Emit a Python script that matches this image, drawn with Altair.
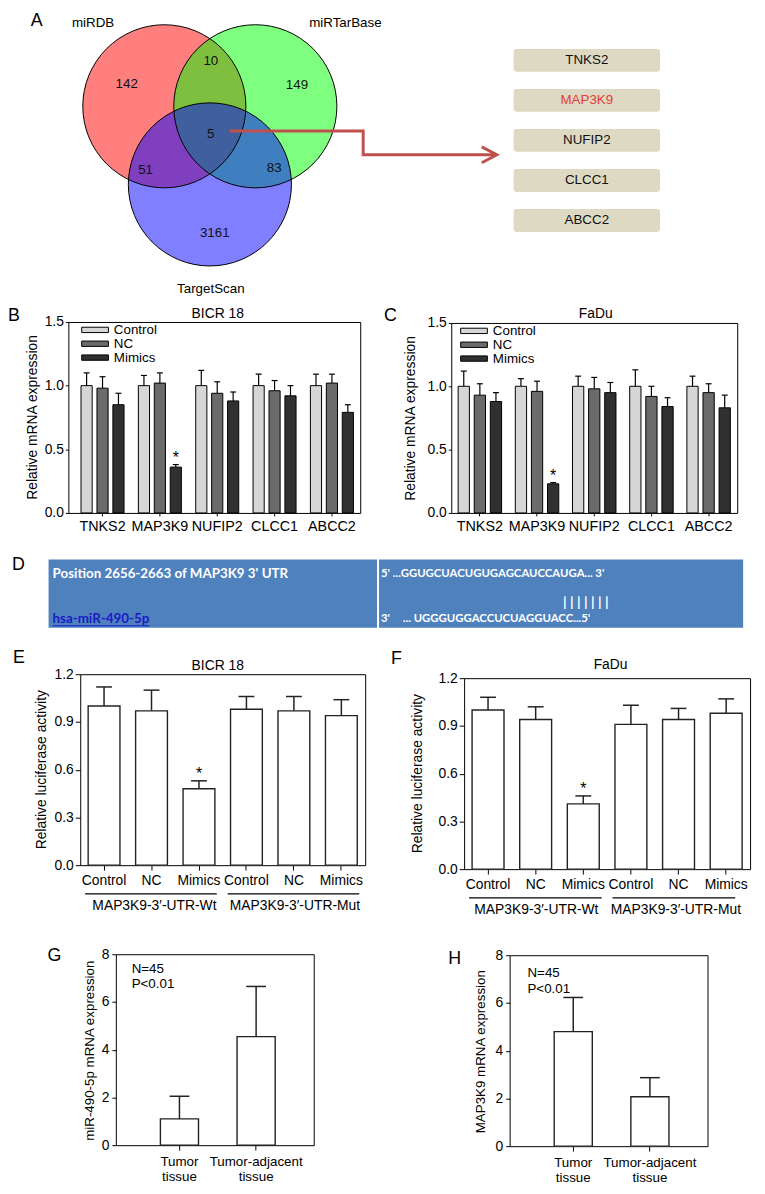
import altair as alt
import pandas as pd

FONT = "Liberation Sans"
SEQFONT = "Lato"

# ---------------- data ----------------
venn_sets = ["miRDB", "miRTarBase", "TargetScan"]
venn_region_counts = ["142", "10", "149", "5", "51", "83", "3161"]
target_genes = ["TNKS2", "MAP3K9", "NUFIP2", "CLCC1", "ABCC2"]
highlight_gene = "MAP3K9"

genes = ["TNKS2", "MAP3K9", "NUFIP2", "CLCC1", "ABCC2"]
groups = ["Control", "NC", "Mimics"]

bicr_control = [1.00, 1.00, 1.00, 1.00, 1.00]
bicr_control_sd = [0.10, 0.08, 0.12, 0.09, 0.09]
bicr_nc = [0.98, 1.02, 0.94, 0.96, 1.02]
bicr_nc_sd = [0.09, 0.08, 0.09, 0.08, 0.07]
bicr_mimics = [0.85, 0.36, 0.88, 0.92, 0.79]
bicr_mimics_sd = [0.09, 0.02, 0.07, 0.08, 0.06]

fadu_control = [1.00, 1.00, 1.00, 1.00, 1.00]
fadu_control_sd = [0.12, 0.06, 0.08, 0.13, 0.08]
fadu_nc = [0.93, 0.96, 0.98, 0.92, 0.95]
fadu_nc_sd = [0.09, 0.08, 0.09, 0.08, 0.07]
fadu_mimics = [0.88, 0.23, 0.95, 0.84, 0.83]
fadu_mimics_sd = [0.07, 0.01, 0.08, 0.07, 0.10]

luc_conditions = ["Control", "NC", "Mimics", "Control", "NC", "Mimics"]
luc_constructs = ["Wt", "Wt", "Wt", "Mut", "Mut", "Mut"]
luc_construct_names = ["MAP3K9-3\u2032-UTR-Wt", "MAP3K9-3\u2032-UTR-Mut"]
luc_bicr = [1.00, 0.97, 0.48, 0.98, 0.97, 0.94]
luc_bicr_sd = [0.12, 0.13, 0.05, 0.08, 0.09, 0.10]
luc_fadu = [1.00, 0.94, 0.41, 0.91, 0.94, 0.98]
luc_fadu_sd = [0.08, 0.08, 0.05, 0.12, 0.07, 0.09]

tissues = ["Tumor tissue", "Tumor-adjacent tissue"]
mir_expr = [1.10, 4.55]
mir_expr_sd = [0.95, 2.10]
map3k9_expr = [4.80, 2.07]
map3k9_expr_sd = [1.43, 0.80]

# ---------------- layout / style ----------------
W, H = 757, 1186
M = 8


def c(v):
    return v - M


bar_greys = ["#d6d6d6", "#6b6b6b", "#303030"]


def text(t, x, y, size=13, color="black", align="center", baseline="middle",
         weight="normal", font=FONT):
    return alt.Chart(pd.DataFrame({"t": [t]})).mark_text(
        align=align, baseline=baseline, fontSize=size, fontWeight=weight,
        font=font, color=color
    ).encode(x=alt.value(c(x)), y=alt.value(c(y)), text="t:N")


def frame(l, r, t, b):
    return alt.Chart(pd.DataFrame({"k": [0]})).mark_rect(
        fill="white", fillOpacity=0, stroke="black", strokeWidth=1
    ).encode(x=alt.value(c(l) + 0.5), x2=alt.value(c(r) + 0.5),
             y=alt.value(c(t) + 0.5), y2=alt.value(c(b) + 0.5))


def hline(x1, x2, y, color="black", width=1.2):
    return alt.Chart(pd.DataFrame({"k": [0]})).mark_rule(
        color=color, strokeWidth=width
    ).encode(x=alt.value(c(x1)), x2=alt.value(c(x2)), y=alt.value(c(y)))


# ---------------- panel A : Venn ----------------
venn_cx = [0.0, 0.989, 0.495]
venn_cy = [0.0, 0.0, 0.849]
region_x = [-0.409, 0.505, 1.441, 0.505, -0.204, 1.194, 0.548]
region_y = [-0.247, -0.495, -0.226, 0.301, 0.688, 0.667, 1.376]
setlabel_x = [-0.774, 1.968, 0.505]
setlabel_y = [-0.903, -0.903, 1.989]
arrow_x = [0.710, 2.161, 2.161, 3.600]
arrow_y = [0.269, 0.269, 0.527, 0.527]
arrow_tip = (3.613, 0.527)


def venn_panel():
    xs = alt.Scale(domain=[-1, 1], range=[c(73), c(259)], nice=False, zero=False)
    ys = alt.Scale(domain=[-1, 1], range=[c(5) + 3, c(191) + 3], nice=False, zero=False)
    X = alt.X("vx:Q", scale=xs, axis=None)
    Y = alt.Y("vy:Q", scale=ys, axis=None)
    circ = pd.DataFrame({"set": venn_sets, "vx": venn_cx, "vy": venn_cy})
    size = 3.14159 * 93 ** 2
    fills = alt.Chart(circ).mark_point(
        shape="circle", filled=True, size=size, opacity=1, fillOpacity=0.5, strokeWidth=0
    ).encode(x=X, y=Y, color=alt.Color(
        "set:N", scale=alt.Scale(domain=venn_sets, range=["#ff0000", "#00ff00", "#0000ff"]),
        legend=None))
    strokes = alt.Chart(circ).mark_point(
        shape="circle", filled=False, size=size, opacity=1, stroke="black", strokeWidth=1
    ).encode(x=X, y=Y)
    regions = pd.DataFrame({"n": venn_region_counts, "vx": region_x, "vy": region_y})
    nums = alt.Chart(regions).mark_text(fontSize=13.5, font=FONT, color="#111111").encode(
        x=X, y=Y, text="n:N")
    sets = pd.DataFrame({"s": venn_sets, "vx": setlabel_x, "vy": setlabel_y})
    setlab = alt.Chart(sets).mark_text(fontSize=13.5, font=FONT, color="black").encode(
        x=X, y=Y, text="s:N")
    arr = pd.DataFrame({"vx": arrow_x, "vy": arrow_y, "o": list(range(len(arrow_x)))})
    line = alt.Chart(arr).mark_line(color="#c0504d", strokeWidth=3, strokeJoin="miter").encode(
        x=X, y=Y, order="o:Q")
    tip = alt.Chart(pd.DataFrame({"vx": [arrow_tip[0]], "vy": [arrow_tip[1]]})).mark_point(
        shape="M-1.9,-1L0,0L-1.9,1", size=256, filled=False, opacity=1,
        stroke="#c0504d", strokeWidth=3
    ).encode(x=X, y=Y)
    return alt.layer(fills, strokes, nums, setlab, line, tip)


def gene_list_panel():
    df = pd.DataFrame({"gene": target_genes})
    ys = alt.Scale(domain=target_genes, range=[c(43), c(228)], paddingInner=0.43, paddingOuter=0)
    Y = alt.Y("gene:N", scale=ys, axis=None, sort=target_genes)
    boxes = alt.Chart(df).mark_rect(color="#ddd9c3", cornerRadius=3).encode(
        x=alt.value(c(519)), x2=alt.value(c(667)), y=Y)
    labels = alt.Chart(df).mark_text(fontSize=13.5, font=FONT).encode(
        x=alt.value(c(593)), y=Y, text="gene:N",
        color=alt.condition(alt.datum.gene == highlight_gene, alt.value("#e5403a"),
                            alt.value("#111111")))
    return alt.layer(boxes, labels)


# ---------------- panels B, C ----------------
def grouped_panel(ctrl, ctrl_sd, nc, nc_sd, mim, mim_sd, L, R, T, B,
                  p_in, p_out, align, tx, ty):
    rows = []
    for i, g in enumerate(genes):
        for grp, m, s in ((groups[0], ctrl[i], ctrl_sd[i]),
                          (groups[1], nc[i], nc_sd[i]),
                          (groups[2], mim[i], mim_sd[i])):
            rows.append(dict(gene=g, group=grp, mean=m, upper=round(m + s, 3),
                             sig=int(g == highlight_gene and grp == "Mimics")))
    df = pd.DataFrame(rows)
    xs = alt.Scale(domain=genes, range=[c(L), c(R)], paddingInner=p_in,
                   paddingOuter=p_out, align=align)
    ys = alt.Scale(domain=[0, 1.5], range=[c(B), c(T)], nice=False, zero=False)
    xos = alt.Scale(domain=groups, paddingInner=0.3, paddingOuter=0)
    xax = alt.Axis(orient="bottom", offset=c(B) - H, tickSize=3, labelPadding=4,
                   labelAngle=0, domain=False, labelFontSize=14.5)
    yax = alt.Axis(orient="left", offset=-c(L), values=[0, 0.5, 1.0, 1.5], format=".1f",
                   tickSize=3, labelPadding=2, domain=False, labelFontSize=14,
                   titleFontSize=14,
                   titleX=c(tx) - c(L), titleY=c(ty), titleBaseline="middle",
                   titleAlign="center")
    X = alt.X("gene:N", scale=xs, sort=genes, title=None, axis=xax)
    XO = alt.XOffset("group:N", scale=xos, sort=groups)
    ttl = "Relative mRNA expression"
    Ym = alt.Y("mean:Q", scale=ys, axis=yax, title=ttl)
    Yu = alt.Y("upper:Q", scale=ys, axis=yax, title=ttl)
    base = alt.Chart(df)
    err = base.mark_rule(color="black", strokeWidth=1.2).encode(
        x=X, xOffset=XO, y=Ym, y2="upper:Q")
    cap = base.mark_tick(orient="horizontal", size=6, thickness=1.2, color="black",
                         opacity=1).encode(x=X, xOffset=XO, y=Yu)
    bars = base.mark_bar(stroke="black", strokeWidth=1, opacity=1).encode(
        x=X, xOffset=XO, y=Ym,
        fill=alt.Fill("group:N", scale=alt.Scale(domain=groups, range=bar_greys),
                      legend=None))
    star = base.transform_filter("datum.sig == 1").mark_text(
        text="*", fontSize=16, baseline="alphabetic", dy=-2, font=FONT
    ).encode(x=X, xOffset=XO, y=Yu)
    return alt.layer(err, cap, bars, star)


def legend_panel(xc, xl, y0, y1):
    df = pd.DataFrame({"group": groups})
    ys = alt.Scale(type="point", domain=groups, range=[c(y0), c(y1)], padding=0)
    Y = alt.Y("group:N", scale=ys, axis=None, sort=groups)
    sw = alt.Chart(df).mark_point(
        shape="M-1,-0.2H1V0.2H-1Z", size=27 ** 2, filled=True, opacity=1,
        stroke="black", strokeWidth=1
    ).encode(x=alt.value(c(xc)), y=Y,
             fill=alt.Fill("group:N", scale=alt.Scale(domain=groups, range=bar_greys),
                           legend=None))
    tx = alt.Chart(df).mark_text(align="left", baseline="middle", fontSize=13.5,
                                 font=FONT).encode(x=alt.value(c(xl)), y=Y, text="group:N")
    return alt.layer(sw, tx)


# ---------------- panels E, F ----------------
def luc_panel(vals, sds, L, R, T, B, tx, ty):
    keys = [f"{a}|{b}" for a, b in zip(luc_conditions, luc_constructs)]
    df = pd.DataFrame({"key": keys, "mean": vals,
                       "upper": [round(v + s, 3) for v, s in zip(vals, sds)],
                       "sig": [int(k == "Mimics|Wt") for k in keys]})
    xs = alt.Scale(domain=keys, range=[c(L), c(R)], paddingInner=0.33, paddingOuter=0.167)
    ys = alt.Scale(domain=[0, 1.2], range=[c(B), c(T)], nice=False, zero=False)
    xax = alt.Axis(orient="bottom", offset=c(B) - H, tickSize=5, labelPadding=4,
                   labelAngle=0, domain=False, labelExpr="split(datum.label, '|')[0]",
                   labelFontSize=14)
    yax = alt.Axis(orient="left", offset=-c(L), values=[0, 0.3, 0.6, 0.9, 1.2],
                   format=".1f", tickSize=5, labelPadding=2, domain=False,
                   labelFontSize=14, titleFontSize=14,
                   titleX=c(tx) - c(L), titleY=c(ty), titleBaseline="middle",
                   titleAlign="center")
    X = alt.X("key:N", scale=xs, sort=keys, title=None, axis=xax)
    ttl = "Relative luciferase activity"
    Ym = alt.Y("mean:Q", scale=ys, axis=yax, title=ttl)
    Yu = alt.Y("upper:Q", scale=ys, axis=yax, title=ttl)
    base = alt.Chart(df)
    err = base.mark_rule(color="#222222", strokeWidth=1.5).encode(x=X, y=Ym, y2="upper:Q")
    cap = base.mark_tick(orient="horizontal", size=16, thickness=1.5, color="#222222",
                         opacity=1).encode(x=X, y=Yu)
    bars = base.mark_bar(fill="white", stroke="#222222", strokeWidth=1.4, opacity=1).encode(
        x=X, y=Ym)
    star = base.transform_filter("datum.sig == 1").mark_text(
        text="*", fontSize=16, baseline="alphabetic", dy=-2, font=FONT
    ).encode(x=X, y=Yu)
    return alt.layer(err, cap, bars, star)


# ---------------- panels G, H ----------------
def tissue_panel(vals, sds, L, R, T, B, tx, ty, ttl):
    df = pd.DataFrame({"tissue": tissues, "mean": vals,
                       "upper": [round(v + s, 3) for v, s in zip(vals, sds)]})
    xs = alt.Scale(domain=tissues, range=[c(L), c(R)], paddingInner=0.503,
                   paddingOuter=0.542, align=0.536)
    ys = alt.Scale(domain=[0, 8], range=[c(B), c(T)], nice=False, zero=False)
    xax = alt.Axis(orient="bottom", offset=c(B) - H, tickSize=5, labelPadding=5,
                   labelAngle=0, domain=False, labelExpr="split(datum.label, ' ')",
                   labelLineHeight=15, labelFontSize=13.5)
    yax = alt.Axis(orient="left", offset=-c(L), values=[0, 2, 4, 6, 8], format="d",
                   tickSize=4, labelPadding=3, domain=False, labelFontSize=14,
                   titleFontSize=13.5,
                   titleX=c(tx) - c(L), titleY=c(ty), titleBaseline="middle",
                   titleAlign="center")
    X = alt.X("tissue:N", scale=xs, sort=tissues, title=None, axis=xax)
    Ym = alt.Y("mean:Q", scale=ys, axis=yax, title=ttl)
    Yu = alt.Y("upper:Q", scale=ys, axis=yax, title=ttl)
    base = alt.Chart(df)
    err = base.mark_rule(color="#222222", strokeWidth=1.5).encode(x=X, y=Ym, y2="upper:Q")
    cap = base.mark_tick(orient="horizontal", size=20, thickness=1.5, color="#222222",
                         opacity=1).encode(x=X, y=Yu)
    bars = base.mark_bar(fill="white", stroke="#222222", strokeWidth=1.4, opacity=1).encode(
        x=X, y=Ym)
    return alt.layer(err, cap, bars)


# ---------------- panel D : sequence table ----------------
def seq_panel():
    left = alt.Chart(pd.DataFrame({"k": [0]})).mark_rect(color="#4f81bd").encode(
        x=alt.value(c(49)), x2=alt.value(c(381)), y=alt.value(c(559)), y2=alt.value(c(628)))
    right = alt.Chart(pd.DataFrame({"k": [0]})).mark_rect(color="#4f81bd").encode(
        x=alt.value(c(383)), x2=alt.value(c(751)), y=alt.value(c(559)), y2=alt.value(c(628)))
    layers = [left, right,
              text("Position 2656-2663 of MAP3K9 3' UTR", 53, 574, size=13.5, color="white",
                   align="left", weight="bold", font=SEQFONT),
              text("hsa-miR-490-5p", 53, 619, size=13.5, color="#1a1ac8", align="left",
                   weight="bold", font=SEQFONT),
              hline(53, 151, 626, color="#1a1ac8", width=1.2),
              text("5' ...GGUGCUACUGUGAGCAUCCAUGA... 3'", 385, 574, size=11.5, color="white",
                   align="left", weight="bold", font=SEQFONT),
              text("| | | | | | |", 592, 603, size=14, color="white", weight="bold",
                   font=SEQFONT),
              text("3'", 385, 619, size=11.5, color="white", align="left", weight="bold",
                   font=SEQFONT),
              text("... UGGGUGGACCUCUAGGUACC...5'", 407, 619, size=11.5, color="white",
                   align="left", weight="bold", font=SEQFONT)]
    return alt.layer(*layers)


layers = [
    venn_panel(),
    gene_list_panel(),
    text("A", 31, 15, size=18, align="left"),
    # B
    frame(69, 364, 319, 512),
    grouped_panel(bicr_control, bicr_control_sd, bicr_nc, bicr_nc_sd, bicr_mimics,
                  bicr_mimics_sd, 69, 364, 319, 512, 0.25, 0.17, 0.65, 33, 415),
    legend_panel(96, 115, 327, 355),
    text("BICR 18", 220, 311, size=14),
    text("B", 8, 313, size=18, align="left"),
    # C
    frame(456, 745, 320, 512),
    grouped_panel(fadu_control, fadu_control_sd, fadu_nc, fadu_nc_sd, fadu_mimics,
                  fadu_mimics_sd, 456, 745, 320, 512, 0.24, 0.12, 0.5, 415, 416),
    legend_panel(479, 498, 328, 356),
    text("FaDu", 602, 311, size=14),
    text("C", 388, 313, size=18, align="left"),
    # D
    seq_panel(),
    text("D", 12, 565, size=18, align="left"),
    # E
    frame(81, 369, 675, 868),
    luc_panel(luc_bicr, luc_bicr_sd, 81, 369, 675, 868, 42, 771),
    text("BICR 18", 220, 667, size=14),
    text("E", 13, 659, size=18, align="left"),
    hline(86, 219, 897), hline(230, 363, 897),
    text(luc_construct_names[0], 156, 909, size=14), text(luc_construct_names[1], 298, 909, size=14),
    # F
    frame(469, 758, 679, 872),
    luc_panel(luc_fadu, luc_fadu_sd, 469, 758, 679, 872, 422, 775),
    text("FaDu", 617, 666, size=14),
    text("F", 395, 660, size=18, align="left"),
    hline(474, 608, 901), hline(619, 743, 901),
    text(luc_construct_names[0], 542, 913, size=14), text(luc_construct_names[1], 683, 913, size=14),
    # G
    frame(117, 317, 958, 1151),
    tissue_panel(mir_expr, mir_expr_sd, 117, 317, 958, 1151, 90, 1055,
                 "miR-490-5p mRNA expression"),
    text("N=45", 133, 973, size=13.5, align="left"),
    text("P<0.01", 133, 988, size=13.5, align="left"),
    text("G", 48, 960, size=18, align="left"),
    # H
    frame(515, 715, 959, 1152),
    tissue_panel(map3k9_expr, map3k9_expr_sd, 515, 715, 959, 1152, 486, 1056,
                 "MAP3K9 mRNA expression"),
    text("N=45", 533, 977, size=13.5, align="left"),
    text("P<0.01", 533, 993, size=13.5, align="left"),
    text("H", 453, 963, size=18, align="left"),
]

chart = alt.layer(*layers).resolve_scale(
    x="independent", y="independent", xOffset="independent",
    color="independent", fill="independent"
).properties(
    width=W, height=H, padding=0, autosize=alt.AutoSizeParams(type="none")
).configure_view(strokeWidth=0).configure_axis(
    grid=False, labelFont=FONT, titleFont=FONT, labelFontSize=13, titleFontSize=13,
    titleFontWeight="normal", labelColor="black", titleColor="black",
    tickColor="black", domainColor="black", tickWidth=1
)

chart.save("out.html", embed_options={"renderer": "svg", "actions": False})
